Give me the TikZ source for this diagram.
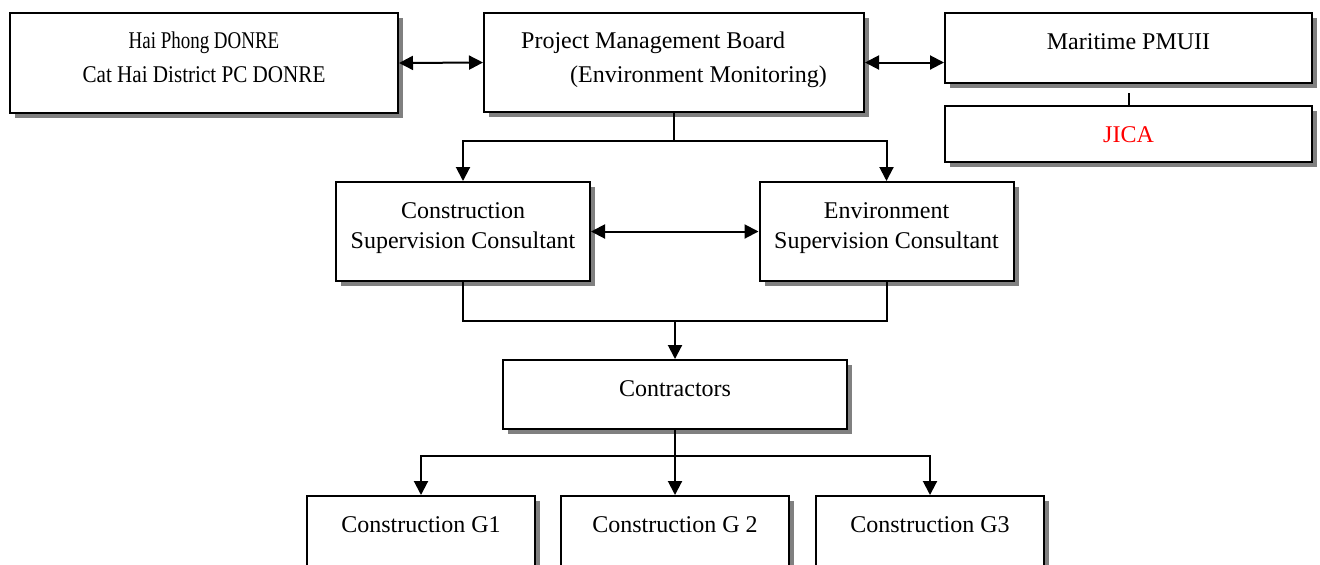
\documentclass[tikz,border=0pt]{standalone}
\usepackage{fontspec}
\setmainfont{Liberation Serif}
\usetikzlibrary{arrows.meta, shadows}
\definecolor{cshadow}{HTML}{808080}
\definecolor{cred}{HTML}{FF0000}
\newcommand{\lifted}[2]{\raisebox{#1}[0pt][0pt]{#2}}
\tikzset{
  every picture/.style={x=0.5pt, y=-0.5pt, font=\fontsize{12pt}{17pt}\selectfont},
  box/.style={draw=black, fill=white, line width=1pt, inner sep=0pt,
    drop shadow={shadow xshift=2.5pt, shadow yshift=-2.5pt, opacity=1, fill=cshadow}},
  link/.style={draw=black, line width=1pt},
  arrow/.style={link, -{Triangle[length=7pt, width=7pt]}},
  biarrow/.style={link, {Triangle[length=7pt, width=7pt]}-{Triangle[length=7pt, width=7pt]}},
}

\begin{document}
\begin{tikzpicture}
  \clip (0,0) rectangle (1320,564);
  % top row
  \node[box, minimum width=194pt, minimum height=50pt] (donre) at (204,63)
    {\lifted{-9.5pt}{\begin{tabular}[b]{@{}c@{}}\scalebox{0.79}[1]{Hai Phong DONRE}\\\scalebox{0.88}[1]{Cat Hai District PC DONRE}\end{tabular}}};
  \node[box, minimum width=190pt, minimum height=49.5pt] (pmb) at (674,62.5)
    {\lifted{-9.75pt}{\begin{tabular}[b]{@{}l@{}}Project Management Board\\\hspace*{24.5pt}(Environment Monitoring)\end{tabular}}\hspace{24pt}};
  \node[box, minimum width=183.5pt, minimum height=35pt] (pmu) at (1128.5,48) {\lifted{-0.5pt}{Maritime PMUII}};
  \node[box, minimum width=183.5pt, minimum height=28pt, text=cred] (jica) at (1128.5,134) {\lifted{-4pt}{JICA}};
  % consultants
  \node[box, minimum width=127pt, minimum height=49.5pt] (csc) at (463,231.5)
    {\lifted{-8.25pt}{\begin{tabular}[b]{@{}c@{}}Construction\\[-2pt]Supervision Consultant\end{tabular}}};
  \node[box, minimum width=127pt, minimum height=49.5pt] (esc) at (886.5,231.5)
    {\lifted{-8.25pt}{\begin{tabular}[b]{@{}c@{}}Environment\\[-2pt]Supervision Consultant\end{tabular}}};
  % contractors
  \node[box, minimum width=172pt, minimum height=34.5pt] (con) at (675,394.5) {\lifted{-0.75pt}{Contractors}};
  \node[box, minimum width=114pt, minimum height=50pt] (g1) at (421,546) {\lifted{7pt}{Construction G1}};
  \node[box, minimum width=114pt, minimum height=50pt] (g2) at (675,546) {\lifted{7pt}{Construction G 2}};
  \node[box, minimum width=114pt, minimum height=50pt] (g3) at (930,546) {\lifted{7pt}{Construction G3}};
  % connectors
  \draw[biarrow] (donre.east) -- (pmb.west);
  \draw[biarrow] (pmb.east) -- (pmb.east -| pmu.west);
  \draw[link] ([yshift=-4.5pt]pmu.south) -- (jica.north);
  \draw[arrow] (pmb.south) -- ++(0,28) -| (csc.north);
  \draw[arrow] (pmb.south) -- ++(0,28) -| (esc.north);
  \draw[biarrow] (csc.east) -- (esc.west);
  \coordinate (merge) at (675,321);
  \draw[link] (csc.south) |- (merge) -| (esc.south);
  \draw[arrow] (merge) -- (con.north);
  \coordinate (split) at (675,456);
  \draw[arrow] (con.south) -- (split) -| (g1.north);
  \draw[arrow] (split) -| (g3.north);
  \draw[arrow] (con.south) -- (g2.north);
\end{tikzpicture}
\end{document}
